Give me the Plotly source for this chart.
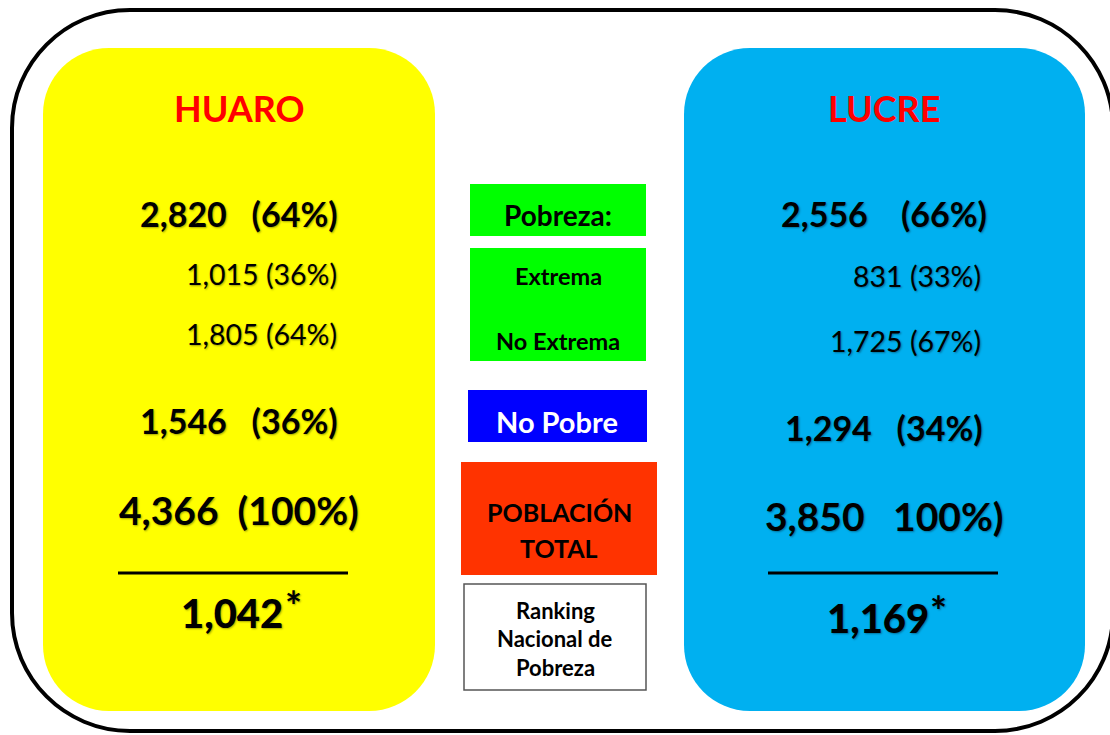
import plotly.graph_objects as go

# values shown in the two municipality panels
municipios = ["HUARO", "LUCRE"]
pobreza = ["2,820\u00a0\u00a0\u00a0(64%)", "2,556\u00a0\u00a0\u00a0\u00a0(66%)"]
extrema = ["1,015 (36%)", "831 (33%)"]
no_extrema = ["1,805 (64%)", "1,725 (67%)"]
no_pobre = ["1,546\u00a0\u00a0\u00a0(36%)", "1,294\u00a0\u00a0\u00a0(34%)"]
poblacion_total = ["4,366\u00a0\u00a0(100%)", "3,850\u00a0\u00a0\u00a0100%)"]
ranking = ["1,042", "1,169"]

# legend labels in the middle column
label_pobreza = "Pobreza:"
label_extrema = ["Extrema", "No Extrema"]
label_no_pobre = "No Pobre"
label_poblacion = ["POBLACIÓN", "TOTAL"]
label_ranking = ["Ranking", "Nacional de", "Pobreza"]

W, H = 1110, 735
font_main = "Lato, 'Open Sans', sans-serif"
shadow = "1px 1px 2px rgba(0,0,0,0.35)"
panel_colors = ["#FFFF00", "#00B0F0"]


def rounded_rect(x0, y0, x1, y1, r):
    k = 0.5523 * r
    return (f"M{x0 + r},{y0} L{x1 - r},{y0} "
            f"C{x1 - r + k},{y0} {x1},{y0 + r - k} {x1},{y0 + r} "
            f"L{x1},{y1 - r} "
            f"C{x1},{y1 - r + k} {x1 - r + k},{y1} {x1 - r},{y1} "
            f"L{x0 + r},{y1} "
            f"C{x0 + r - k},{y1} {x0},{y1 - r + k} {x0},{y1 - r} "
            f"L{x0},{y0 + r} "
            f"C{x0},{y0 + r - k} {x0 + r - k},{y0} {x0 + r},{y0} Z")


fig = go.Figure()
shapes = []
annotations = []


def add_text(x, y, text, size, color="black", weight="normal", xanchor="center", shade=True):
    annotations.append(dict(x=x, y=y, text=text, showarrow=False, xanchor=xanchor, yanchor="middle",
                            borderpad=0,
                            font=dict(family=font_main, size=size, color=color, weight=weight,
                                      shadow=shadow if shade else "none")))


# outer frame (right edge runs just past the picture)
shapes.append(dict(type="path", path=rounded_rect(12, 10, 1113, 731, 118),
                   line=dict(color="black", width=4), fillcolor="white", layer="below"))

# panels
panel_box = [(43, 48, 435, 711), (684, 48, 1085, 711)]
centers = [239, 884]
sub_right = [338, 982]
rule = [(118, 348), (768, 998)]
rank_x = [232, 878]
star_x = [284, 929]
for i, name in enumerate(municipios):
    x0, y0, x1, y1 = panel_box[i]
    shapes.append(dict(type="path", path=rounded_rect(x0, y0, x1, y1, 66),
                       line=dict(width=0), fillcolor=panel_colors[i], layer="below"))
    cx = centers[i]
    add_text(cx, 108, name, 36, color="#FF0000", weight="bold", shade=False)
    add_text(cx, 213, pobreza[i], 34, weight="bold")
    add_text(sub_right[i], 274 if i == 0 else 276, extrema[i], 28.5, xanchor="right")
    add_text(sub_right[i], 334 if i == 0 else 341, no_extrema[i], 28.5, xanchor="right")
    add_text(cx, 420 if i == 0 else 427, no_pobre[i], 34, weight="bold")
    add_text(cx, 510 if i == 0 else 516, poblacion_total[i], 39, weight="bold")
    shapes.append(dict(type="line", x0=rule[i][0], x1=rule[i][1], y0=573, y1=573,
                       line=dict(color="black", width=3)))
    add_text(rank_x[i], 613 if i == 0 else 618, ranking[i], 40, weight=900)
    add_text(star_x[i], 606 if i == 0 else 611, "*", 40, weight="bold", xanchor="left")

# middle column boxes
boxes = [
    (470, 184, 646, 236, "#00FF00", None),
    (470, 248, 646, 361, "#00FF00", None),
    (468, 390, 647, 442, "#0000FF", None),
    (461, 462, 657, 575, "#FF3300", None),
    (464, 584, 646, 690, "white", "#555555"),
]
for x0, y0, x1, y1, fill, border in boxes:
    shapes.append(dict(type="rect", x0=x0, x1=x1, y0=y0, y1=y1, fillcolor=fill,
                       line=dict(color=border or fill, width=1.5 if border else 0), layer="below"))

add_text(558, 215, label_pobreza, 28, weight="bold", shade=False)
add_text(558, 276, label_extrema[0], 23.5, weight="bold", shade=False)
add_text(558, 341, label_extrema[1], 23.5, weight="bold", shade=False)
add_text(557, 421, label_no_pobre, 29, color="white", weight="bold", shade=False)
add_text(559, 512, label_poblacion[0], 25, weight="bold", shade=False)
add_text(559, 548, label_poblacion[1], 25, weight="bold", shade=False)
for j, line in enumerate(label_ranking):
    add_text(555, 610 + j * 28.5, line, 22, weight="bold", shade=False)

fig.update_layout(width=W, height=H, margin=dict(l=0, r=0, t=0, b=0),
                  paper_bgcolor="white", plot_bgcolor="white",
                  shapes=shapes, annotations=annotations, showlegend=False)
fig.update_xaxes(range=[0, W], visible=False, fixedrange=True)
fig.update_yaxes(range=[H, 0], visible=False, fixedrange=True)

fig.write_html("out.html", config={"displayModeBar": False},
               post_script="document.body.style.margin='0';")
